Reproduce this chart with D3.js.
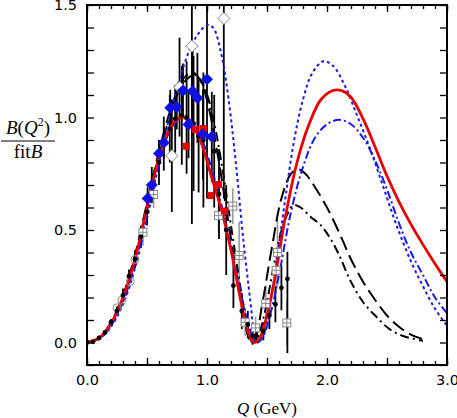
<!DOCTYPE html>
<html>
<head>
<meta charset="utf-8">
<script src="https://cdn.jsdelivr.net/npm/d3@7"></script>
<style>
  body { margin: 0; background: #fff; }
  svg text { font-family: "DejaVu Sans", sans-serif; }
  .serif { font-family: "Liberation Serif", "Times New Roman", serif; }
</style>
</head>
<body>
<div id="chart"></div>
<script>
// chart size and plot box
const width = 457;
const height = 418;
const margin = {left: 87, right: 10, top: 5, bottom: 53};

// theory curves, [Q, B] pairs
const redCurve = [[0,0],[0.1,0.02],[0.2,0.085],[0.3,0.2],[0.4,0.37],[0.5,0.6],[0.6,0.82],[0.7,0.96],[0.78,1.0],[0.86,0.98],
  [0.95,0.89],[1.03,0.75],[1.12,0.59],[1.2,0.41],[1.28,0.19],[1.34,0.05],[1.39,0.0],[1.44,0.02],[1.5,0.12],[1.57,0.3],
  [1.65,0.55],[1.75,0.8],[1.85,0.97],[1.95,1.08],[2.05,1.12],[2.12,1.12],[2.2,1.09],[2.3,0.995],[2.4,0.87],[2.5,0.74],
  [2.6,0.625],[2.7,0.525],[2.8,0.435],[2.9,0.35],[3.0,0.27]];
const blueDotted = [[0,0],[0.1,0.015],[0.2,0.07],[0.3,0.17],[0.4,0.33],[0.5,0.55],[0.6,0.8],[0.7,1.03],[0.8,1.22],[0.9,1.35],
  [1.0,1.41],[1.05,1.4],[1.12,1.28],[1.18,1.08],[1.24,0.8],[1.3,0.47],[1.36,0.19],[1.4,0.03],[1.43,0.0],[1.48,0.05],
  [1.55,0.25],[1.65,0.63],[1.72,0.88],[1.8,1.08],[1.88,1.2],[1.97,1.25],[2.05,1.23],[2.15,1.14],[2.25,1.01],[2.36,0.86],
  [2.47,0.69],[2.58,0.52],[2.7,0.36],[2.8,0.25],[2.9,0.15],[3.0,0.075]];
const blueDashDot = [[0,0],[0.1,0.015],[0.2,0.075],[0.3,0.18],[0.4,0.35],[0.5,0.57],[0.6,0.79],[0.7,0.95],[0.8,1.0],[0.88,0.98],
  [0.96,0.9],[1.05,0.75],[1.14,0.57],[1.22,0.38],[1.3,0.18],[1.37,0.04],[1.42,0.0],[1.47,0.03],[1.53,0.13],[1.6,0.3],
  [1.7,0.58],[1.8,0.78],[1.9,0.91],[2.0,0.97],[2.1,0.99],[2.2,0.97],[2.3,0.91],[2.4,0.81],[2.5,0.68],[2.6,0.53],
  [2.7,0.4],[2.8,0.3],[2.9,0.2],[3.0,0.13]];
const blackDashed = [[0,0],[0.1,0.02],[0.2,0.09],[0.3,0.21],[0.4,0.39],[0.5,0.62],[0.6,0.85],[0.7,1.04],[0.8,1.17],[0.88,1.2],
  [0.95,1.16],[1.02,1.03],[1.1,0.8],[1.18,0.53],[1.26,0.26],[1.32,0.08],[1.36,0.01],[1.4,0.02],[1.46,0.17],[1.54,0.42],
  [1.62,0.64],[1.7,0.75],[1.76,0.77],[1.82,0.75],[1.9,0.69],[2.0,0.6],[2.1,0.49],[2.2,0.37],[2.3,0.27],[2.4,0.19],
  [2.5,0.12],[2.6,0.07],[2.7,0.035],[2.8,0.015]];
const blackDashDot = [[0,0],[0.1,0.02],[0.2,0.085],[0.3,0.2],[0.4,0.37],[0.5,0.6],[0.6,0.83],[0.7,1.02],[0.8,1.15],[0.9,1.19],
  [0.98,1.13],[1.05,1.0],[1.12,0.8],[1.2,0.52],[1.28,0.24],[1.34,0.06],[1.38,0.0],[1.42,0.02],[1.48,0.13],[1.56,0.35],
  [1.64,0.53],[1.72,0.61],[1.78,0.6],[1.86,0.56],[1.95,0.52],[2.03,0.46],[2.1,0.39],[2.19,0.28],[2.3,0.18],[2.41,0.115],
  [2.52,0.06],[2.64,0.028],[2.8,0.008]];

// data points, [Q, B, error below, error above (if different)]
const blackDots = [[0,0,0],[0.05,0.003,0.005],[0.1,0.02,0.01],[0.15,0.045,0.01],[0.2,0.09,0.015],[0.25,0.14,0.02],
  [0.3,0.21,0.03],[0.35,0.295,0.03],[0.4,0.37,0.04],[0.45,0.47,0.05],[0.5,0.58,0.06],[0.54,0.7,0.08],[0.6,0.8,0.1],
  [0.64,0.884,0.12],[0.69,0.95,0.15],[0.735,0.994,0.15],[0.79,1.01,0.22],[0.83,1.0,0.25],[0.888,0.973,0.3],
  [0.93,0.917,0.25],[0.97,0.9,0.3],[1.06,0.85,0.25],[1.1,0.66,0.2],[1.16,0.5,0.2],[1.22,0.253,0.1],[1.29,0.14,0.08],
  [1.34,0.08,0.06],[1.38,0.03,0.04],[1.41,0.028,0.03],[1.47,0.05,0.04],[1.52,0.12,0.06],[1.57,0.17,0.08],
  [1.62,0.243,0.1],[1.67,0.283,0.33,0.12]];
const blueDiamonds = [[0.505,0.64,0.05],[0.54,0.7,0.05],[0.6,0.84,0.06],[0.64,0.888,0.07],[0.694,1.043,0.08],
  [0.748,1.047,0.1],[0.8,1.12,0.12],[0.846,0.969,0.15],[0.88,1.117,0.2],[0.92,1.087,0.2],[0.966,0.924,0.2],
  [1.0,1.17,0.53],[1.04,0.914,0.2]];
const openDiamonds = [[0.707,0.83,0.25],[0.771,1.135,0.22],[0.874,1.317,0.79],[1.14,1.44,0.8]];
const redSquares = [[0.827,0.872],[0.9,0.947],[0.97,0.951],[1.032,0.653],[1.096,0.702],[1.146,0.584]];
const openSquares = [[0.466,0.49,0.06],[0.555,0.658,0.06],[1.096,0.564,0.08],[1.215,0.606,0.08],[1.268,0.387,0.15],
  [1.318,0.09,0.06],[1.405,0.065,0.05],[1.49,0.173,0.08],[1.576,0.321,0.1],[1.587,0.4,0.15],[1.665,0.087,0.1]];
const openCircles = [[0.25,0.154],[0.29,0.188],[0.36,0.272],[0.4,0.369]];

// tick labels
const xLabels = [0, 1, 2, 3];
const yLabels = [0, 0.5, 1.0, 1.5];

const svg = d3.select("#chart").append("svg")
  .attr("width", width)
  .attr("height", height);

const x = d3.scaleLinear().domain([0, 3]).range([margin.left, width - margin.right]);
const y = d3.scaleLinear().domain([-0.1, 1.5]).range([height - margin.bottom, margin.top]);

svg.append("clipPath").attr("id", "plot-clip")
  .append("rect")
  .attr("x", margin.left).attr("y", margin.top)
  .attr("width", width - margin.left - margin.right)
  .attr("height", height - margin.top - margin.bottom);

const plot = svg.append("g").attr("clip-path", "url(#plot-clip)");

// error bars first
function errBars(data, color, w) {
  plot.append("g").selectAll("line")
    .data(data.filter(d => d[2] > 0))
    .enter().append("line")
      .attr("x1", d => x(d[0])).attr("x2", d => x(d[0]))
      .attr("y1", d => y(d[1] - d[2]))
      .attr("y2", d => y(d[1] + (d[3] !== undefined ? d[3] : d[2])))
      .attr("stroke", color).attr("stroke-width", w);
}
errBars(openSquares, "#9a9a9a", 1.6);
errBars(blackDots, "#000", 1.8);
errBars(blueDiamonds, "#000", 1.8);
errBars(openDiamonds, "#000", 1.8);

// curves
const line = d3.line()
  .x(d => x(d[0]))
  .y(d => y(d[1]))
  .curve(d3.curveCatmullRom);

const curves = [
  {data: blackDashed, color: "#000", w: 2, dash: "14,6"},
  {data: blackDashDot, color: "#000", w: 2, dash: "9,4,2,4"},
  {data: blueDashDot, color: "#1a1ae6", w: 2, dash: "8,3,2,3"},
  {data: blueDotted, color: "#1a1ae6", w: 2, dash: "3,3"},
  {data: redCurve, color: "#e60000", w: 2.8, dash: null}
];
curves.forEach(c => {
  plot.append("path")
    .datum(c.data)
    .attr("d", line)
    .attr("fill", "none")
    .attr("stroke", c.color)
    .attr("stroke-width", c.w)
    .attr("stroke-dasharray", c.dash);
});

// markers
plot.append("g").selectAll("circle")
  .data(openCircles).enter().append("circle")
    .attr("cx", d => x(d[0])).attr("cy", d => y(d[1])).attr("r", 4)
    .attr("fill", "none").attr("stroke", "#888").attr("stroke-width", 1);

const sq = plot.append("g").selectAll("g")
  .data(openSquares).enter().append("g")
    .attr("transform", d => `translate(${x(d[0])},${y(d[1])})`);
sq.append("rect").attr("x", -4).attr("y", -4).attr("width", 8).attr("height", 8)
  .attr("fill", "#fff").attr("stroke", "#888").attr("stroke-width", 1);
sq.append("path").attr("d", "M-4,0H4M0,-4V4").attr("stroke", "#888").attr("stroke-width", 1);

plot.append("g").selectAll("circle")
  .data(blackDots).enter().append("circle")
    .attr("cx", d => x(d[0])).attr("cy", d => y(d[1])).attr("r", 2.4)
    .attr("fill", "#000");

plot.append("g").selectAll("rect")
  .data(redSquares).enter().append("rect")
    .attr("x", d => x(d[0]) - 3.5).attr("y", d => y(d[1]) - 3.5)
    .attr("width", 7).attr("height", 7)
    .attr("fill", "#e60000");

const diamond = "M0,-6L6,0L0,6L-6,0Z";
plot.append("g").selectAll("path")
  .data(openDiamonds).enter().append("path")
    .attr("d", diamond)
    .attr("transform", d => `translate(${x(d[0])},${y(d[1])})`)
    .attr("fill", "#fff").attr("stroke", "#888").attr("stroke-width", 1);

plot.append("g").selectAll("path")
  .data(blueDiamonds).enter().append("path")
    .attr("d", diamond)
    .attr("transform", d => `translate(${x(d[0])},${y(d[1])})`)
    .attr("fill", "#1010e0");

// axes: minor + major ticks, pointing inward
const xMinor = d3.range(0, 31).map(i => i / 10);
const xMajor = d3.range(0, 7).map(i => i / 2);
const yMinor = d3.range(-1, 16).map(i => i / 10);

function noLabel(g) { g.select(".domain").remove(); g.selectAll("text").remove(); }

svg.append("g").attr("transform", `translate(0,${height - margin.bottom})`)
  .call(d3.axisBottom(x).tickValues(xMinor).tickSize(-4)).call(noLabel);
svg.append("g").attr("transform", `translate(0,${height - margin.bottom})`)
  .call(d3.axisBottom(x).tickValues(xMajor).tickSize(-7)).call(noLabel);
svg.append("g").attr("transform", `translate(0,${margin.top})`)
  .call(d3.axisTop(x).tickValues(xMinor).tickSize(-4)).call(noLabel);
svg.append("g").attr("transform", `translate(0,${margin.top})`)
  .call(d3.axisTop(x).tickValues(xMajor).tickSize(-7)).call(noLabel);
svg.append("g").attr("transform", `translate(${margin.left},0)`)
  .call(d3.axisLeft(y).tickValues(yMinor).tickSize(-7)).call(noLabel);
svg.append("g").attr("transform", `translate(${width - margin.right},0)`)
  .call(d3.axisRight(y).tickValues(yMinor).tickSize(-7)).call(noLabel);
svg.selectAll(".tick line").attr("stroke-width", 1.3);

// tick labels
svg.append("g").attr("transform", `translate(0,${height - margin.bottom})`)
  .call(d3.axisBottom(x).tickValues(xLabels).tickSize(0).tickPadding(10).tickFormat(d3.format(".1f")))
  .call(g => g.select(".domain").remove())
  .attr("font-size", "14.5px").attr("font-family", "DejaVu Sans");
svg.append("g").attr("transform", `translate(${margin.left},0)`)
  .call(d3.axisLeft(y).tickValues(yLabels).tickSize(0).tickPadding(10).tickFormat(d3.format(".1f")))
  .call(g => g.select(".domain").remove())
  .attr("font-size", "14.5px").attr("font-family", "DejaVu Sans");

// frame
svg.append("rect")
  .attr("x", margin.left).attr("y", margin.top)
  .attr("width", width - margin.left - margin.right)
  .attr("height", height - margin.top - margin.bottom)
  .attr("fill", "none").attr("stroke", "#000").attr("stroke-width", 2);

// axis titles
const xt = svg.append("text").attr("class", "serif")
  .attr("x", (margin.left + width - margin.right) / 2).attr("y", 414)
  .attr("text-anchor", "middle").attr("font-size", "17px");
xt.append("tspan").attr("font-style", "italic").text("Q");
xt.append("tspan").text(" (GeV)");

const yt = svg.append("text").attr("class", "serif")
  .attr("x", 28).attr("y", 134).attr("text-anchor", "middle").attr("font-size", "19px");
yt.append("tspan").attr("font-style", "italic").text("B");
yt.append("tspan").text("(");
yt.append("tspan").attr("font-style", "italic").text("Q");
yt.append("tspan").attr("font-size", "12px").attr("dy", -8).text("2");
yt.append("tspan").attr("dy", 8).text(")");
svg.append("line").attr("x1", 1).attr("x2", 55).attr("y1", 141).attr("y2", 141)
  .attr("stroke", "#000").attr("stroke-width", 1.2);
const yb = svg.append("text").attr("class", "serif")
  .attr("x", 28).attr("y", 158).attr("text-anchor", "middle").attr("font-size", "19px");
yb.append("tspan").text("fit");
yb.append("tspan").attr("font-style", "italic").text("B");
</script>
</body>
</html>
